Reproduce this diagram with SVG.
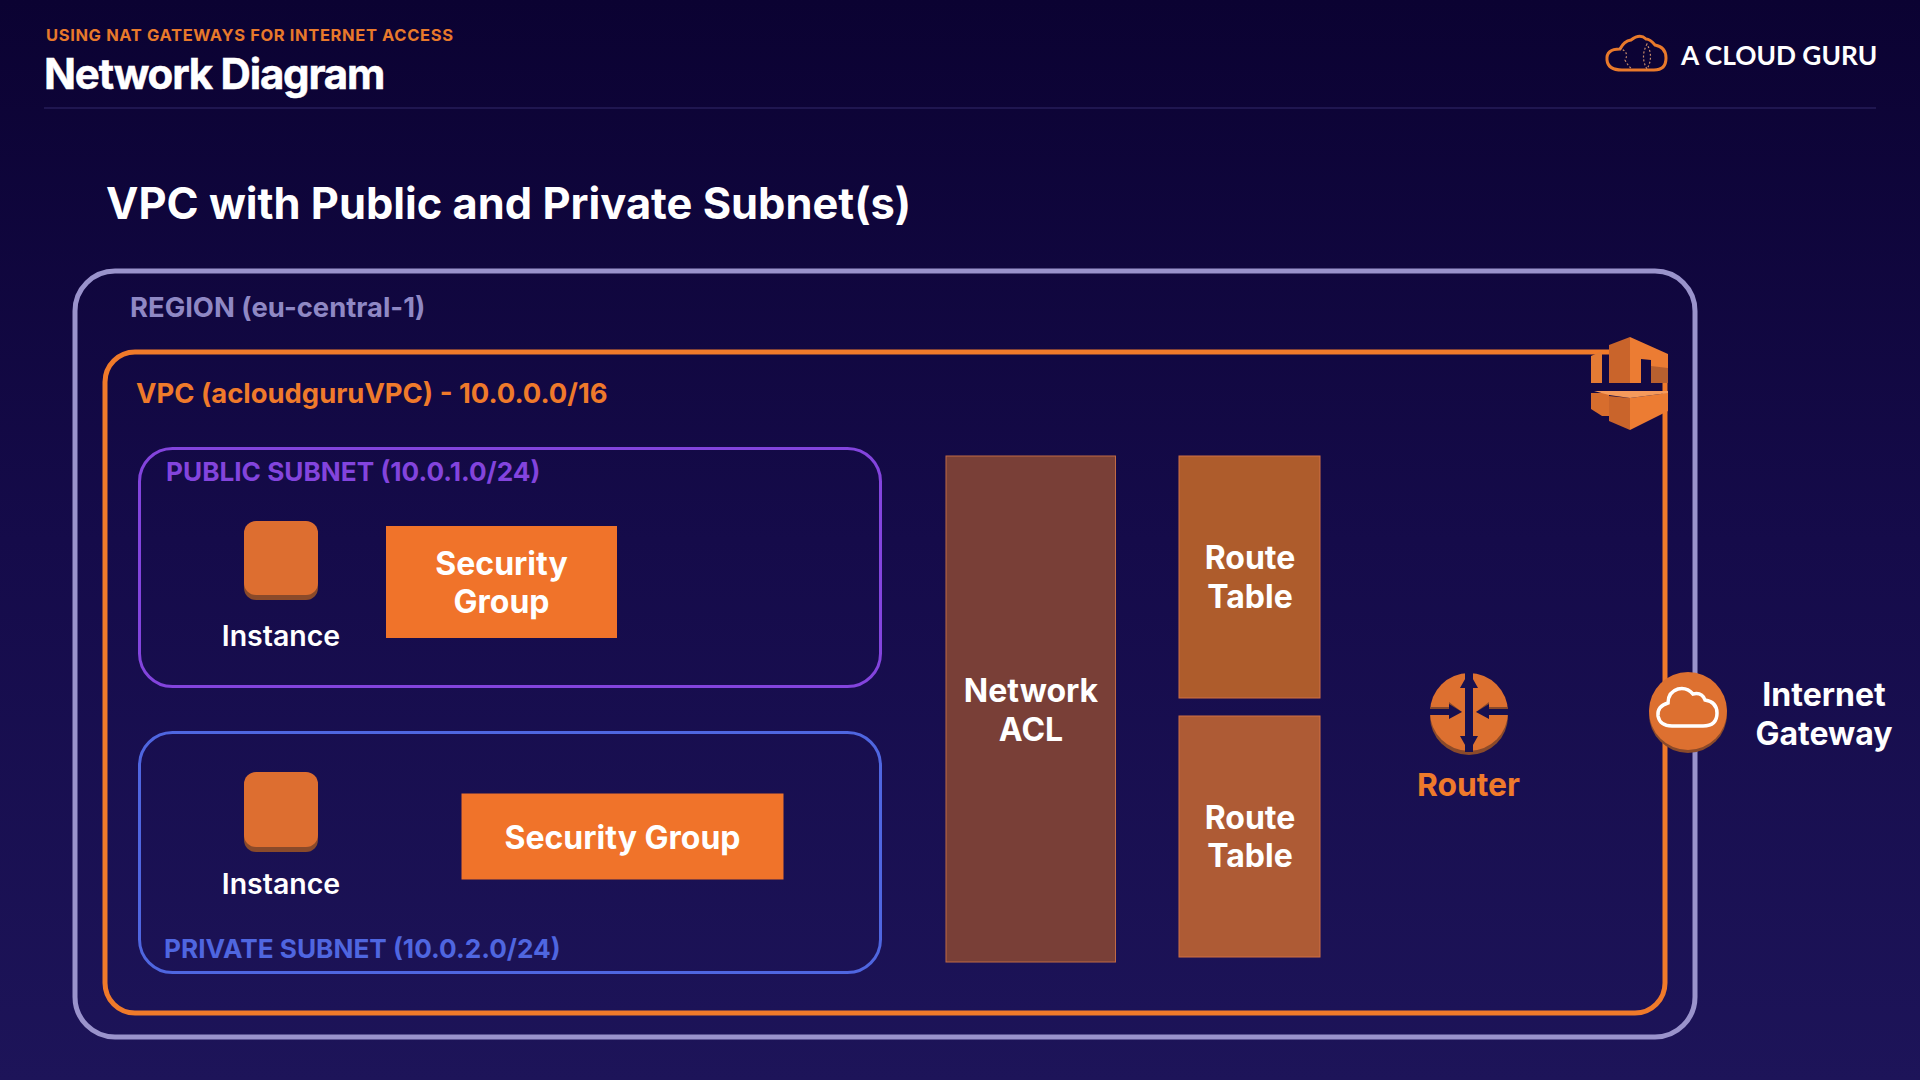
<svg xmlns="http://www.w3.org/2000/svg" width="1920" height="1080" viewBox="0 0 1920 1080">
<defs>
<linearGradient id="bg" x1="0" y1="0" x2="0" y2="1"><stop offset="0" stop-color="#0b0232"/><stop offset="0.5" stop-color="#150b4a"/><stop offset="1" stop-color="#1d1459"/></linearGradient>
</defs>
<style>
text{font-family:Inter,"Noto Sans","Liberation Sans",sans-serif;font-weight:700}
.c{text-anchor:middle}
.w{fill:#fff;font-size:32px}
.i{fill:#fff;font-size:28.500px;font-weight:600}
.sg{fill:#f0732a}
.inst{fill:#dd6e30}
.instb{fill:#8a4a2a}
</style>
<rect width="1920" height="1080" fill="url(#bg)"/>
<g id="header">
<text x="46" y="41" font-size="16.500" letter-spacing="0.630" fill="#e8792b">USING NAT GATEWAYS FOR INTERNET ACCESS</text>
<text x="44" y="89" font-size="42" letter-spacing="-1.200" fill="#fff" stroke="#fff" stroke-width="0.500">Network Diagram</text>
<rect x="44" y="107" width="1832" height="2" fill="#1f1650"/>
</g>
<g id="logo">
<path d="M1622 70 H1654 Q1666 70 1666 58 Q1666 47 1655 45 Q1650 39 1646 39 Q1640 33 1631 40 Q1624 41 1620 49 Q1606 49 1607 60 Q1608 70 1622 70 Z" fill="none" stroke="#e8792b" stroke-width="3"/>
<path d="M1619 48 Q1630 52 1625 60 Q1628 66 1632 69 M1647 44 Q1640 57 1647 69 Q1654 57 1647 44 Z" fill="none" stroke="#c58a6a" stroke-width="1.200" stroke-dasharray="2 2"/>
<text x="1681" y="65" font-size="26.300" fill="#fff" style="font-family:Lato,Inter,sans-serif">A CLOUD GURU</text>
</g>
<text id="title" x="106" y="219" font-size="43.400" fill="#fff">VPC with Public and Private Subnet(s)</text>
<g id="region">
<rect x="75" y="271" width="1620" height="766" rx="40" fill="none" stroke="#9a93cc" stroke-width="5"/>
<text x="130" y="317" font-size="27.400" fill="#8f88c4">REGION (eu-central-1)</text>
</g>
<g id="vpc">
<rect x="105" y="352" width="1560" height="661" rx="30" fill="none" stroke="#f07a2a" stroke-width="5"/>
<text x="136" y="403" font-size="27.400" fill="#ef7a2b">VPC (acloudguruVPC) - 10.0.0.0/16</text>
</g>
<g id="vpc-icon">
<path d="M1591 356 L1602 351 V383 H1591 Z" fill="#e47b34"/>
<path d="M1609 345 L1630 337 V383 H1609 Z" fill="#c9642b"/>
<path d="M1630 337 L1668 354 V383 H1651 V360 L1641 359 V383 H1630 Z" fill="#ec7c33"/>
<path d="M1651 366 L1668 368 V383 H1651 Z" fill="#b8602f"/>
<path d="M1591 393 H1609 V416 L1602 416 L1591 409 Z" fill="#d76d2d"/>
<path d="M1609 396 L1630 398 V430 L1609 421 Z" fill="#c9642b"/>
<path d="M1630 398 L1668 393 V411 L1630 430 Z" fill="#ec7c33"/>
<path d="M1594 391 H1668 V393 L1630 398 L1609 395 Z" fill="#f59a5c"/>
</g>
<g id="public-subnet">
<rect x="139.500" y="448.500" width="741" height="238" rx="33" fill="none" stroke="#8344dd" stroke-width="3"/>
<text x="166" y="481" font-size="26.200" fill="#8344dd">PUBLIC SUBNET (10.0.1.0/24)</text>
</g>
<g id="private-subnet">
<rect x="139.500" y="732.500" width="741" height="240" rx="33" fill="none" stroke="#4f66e0" stroke-width="3"/>
<text x="164" y="958" font-size="26.200" fill="#4f66e0">PRIVATE SUBNET (10.0.2.0/24)</text>
</g>
<g id="instance-public">
<rect x="244" y="524" width="74" height="76" rx="12" class="instb"/>
<rect x="244" y="521" width="74" height="74" rx="12" class="inst"/>
<text x="281" y="645.500" class="i c">Instance</text>
</g>
<g id="sg-public">
<rect x="386" y="526" width="231" height="112" class="sg"/>
<text x="501.500" y="574.500" class="w c">Security</text>
<text x="501.500" y="613" class="w c">Group</text>
</g>
<g id="instance-private">
<rect x="244" y="776" width="74" height="76" rx="12" class="instb"/>
<rect x="244" y="772" width="74" height="75" rx="12" class="inst"/>
<text x="281" y="893.500" class="i c">Instance</text>
</g>
<g id="sg-private">
<rect x="461.500" y="793.500" width="322" height="86" class="sg"/>
<text x="622.500" y="848.500" class="w c">Security Group</text>
</g>
<g id="nacl">
<rect x="946" y="456" width="169.500" height="506" fill="#793f37" stroke="#c06a45"/>
<text x="1031" y="702" class="w c">Network</text>
<text x="1031" y="741" class="w c">ACL</text>
</g>
<g id="route-table-1">
<rect x="1179" y="456" width="141" height="242" fill="#ae5c2c" stroke="#d07045"/>
<text x="1250" y="569" class="w c">Route</text>
<text x="1250" y="608" class="w c">Table</text>
</g>
<g id="route-table-2">
<rect x="1179" y="716" width="141" height="241" fill="#ae5b35" stroke="#d07045"/>
<text x="1250" y="829" class="w c">Route</text>
<text x="1250" y="867" class="w c">Table</text>
</g>
<g id="router">
<circle cx="1469" cy="716" r="39" fill="#8a4a2a"/>
<circle cx="1469" cy="712" r="39" fill="#dd7030"/>
<path d="M1465 670 H1473 V752 H1465 Z" fill="#17104f"/>
<path d="M1469 672 L1478 688 H1460 Z M1469 752 L1460 736 H1478 Z" fill="#17104f"/>
<path d="M1430 707 H1449 V702 L1462 712 H1430 Z M1508 707 H1489 V702 L1476 712 H1508 Z" fill="#8a4a2a"/>
<path d="M1430 709 H1449 V704 L1462 712 L1449 719 V715 H1430 Z M1508 709 H1489 V704 L1476 712 L1489 719 V715 H1508 Z" fill="#17104f"/>
<text x="1468.500" y="795.500" font-size="31.800" fill="#ef7a2b" class="c">Router</text>
</g>
<g id="internet-gateway">
<circle cx="1688" cy="714" r="39" fill="#8a4a2a"/>
<circle cx="1688" cy="711" r="39" fill="#dd7030"/>
<path d="M1672 726 H1703 Q1717 726 1717 713 Q1717 702 1705 700 Q1702 692 1693 694 Q1687 687 1678 689 Q1668 692 1668 703 Q1657 706 1658 716 Q1660 726 1672 726 Z" fill="none" stroke="#fff" stroke-width="3.500"/>
<text x="1824" y="705.500" class="w c">Internet</text>
<text x="1824" y="744.500" class="w c">Gateway</text>
</g>
</svg>
